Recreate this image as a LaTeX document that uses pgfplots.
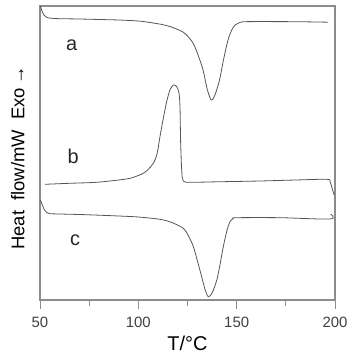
\documentclass[border=0pt]{standalone}
\usepackage{pgfplots}
\pgfplotsset{compat=1.18}
\usepackage{fontspec}
\setmainfont{Liberation Sans}
\definecolor{axisgray}{HTML}{8C8C8C}
\definecolor{curvegray}{HTML}{555555}
\begin{document}
\begin{tikzpicture}
\useasboundingbox (-40bp,-54bp) rectangle (308bp,300bp);
\begin{axis}[
  scale only axis,
  width=295bp, height=294bp,
  xmin=50, xmax=200, ymin=0, ymax=294,
  axis line style={axisgray, line width=1.2pt},
  xtick={50,100,150,200},
  minor xtick={75,125,175},
  ytick=\empty,
  xtick pos=bottom,
  tick align=outside,
  major tick length=9bp,
  minor tick length=6bp,
  every tick/.style={axisgray, line width=0.9pt},
  tick label style={font=\fontsize{15}{18}\selectfont, text=black!75},
  /pgf/number format/assume math mode=true,
  xticklabel style={yshift=-5bp},
  xlabel={T/°C},
  xlabel style={font=\fontsize{20}{24}\selectfont, yshift=-1bp},
  clip=false,
]
% trace a
\addplot[curvegray, line width=0.8pt, smooth] coordinates {
(50.2,294) (51,289) (52,285) (53.5,282.5) (56,281.7) (60,281.3) (70,281) (80,280.5) (90,280) (100,279) (106,277.5) (112,275.5) (116,273.5) (120,270.5) (122.7,268) (125,264) (127.8,257) (130,247) (132.9,230) (135,211) (137,200) (138.5,203) (140,211) (141.5,222) (143.5,242) (145.6,260) (147.5,270) (149.2,275) (151,277) (153.2,278.2) (160,278.4) (180,278.3) (196.5,277.8)
};
% trace b
\addplot[curvegray, line width=0.8pt, smooth] coordinates {
(52.5,115.7) (65,116.7) (78.8,117.7) (90,120) (95.8,121.7) (100,124.5) (102.5,126.7) (105,130.5) (107.6,136.7) (109.5,146) (111,163.3) (112.7,181.7) (114.4,198.3) (116.1,210) (117.8,215) (119.5,213.3) (120.7,206.7) (121.2,192) (121.5,158.3) (122.1,128.3) (122.9,119) (126.3,117.7) (140,118.2) (161.9,119) (180,120) (195.8,120.7) (197.5,118.3) (198.5,112) (199.5,105)
};
% trace c
\addplot[curvegray, line width=0.8pt, smooth] coordinates {
(50.2,100) (51,96) (52,91) (53.5,87.5) (55,86.3) (60,86) (70,85.5) (80,84.8) (90,84) (100,83) (111,80.7) (117,77.5) (122.9,71.7) (125.5,64) (128,53.3) (130.2,38) (132.2,23.3) (134,10) (135.6,3.3) (137.5,7) (139.9,20) (141.5,35) (143.2,53.3) (145,69) (146.6,78.3) (148.3,81.5) (150,82.3) (172,82.3) (197.5,81) (197.8,86)
};
\node[font=\fontsize{20}{24}\selectfont, text=black!85] at (axis cs:66.1,255) {a};
\node[font=\fontsize{20}{24}\selectfont, text=black!85] at (axis cs:66.9,143.3) {b};
\node[font=\fontsize{20}{24}\selectfont, text=black!85] at (axis cs:67.8,60) {c};
\node[rotate=90, font=\fontsize{18.5}{22}\selectfont] at (rel axis cs:-0.075,0.483) {Heat\ \ flow/mW\ \ Exo\,→};
\end{axis}
\end{tikzpicture}
\end{document}
